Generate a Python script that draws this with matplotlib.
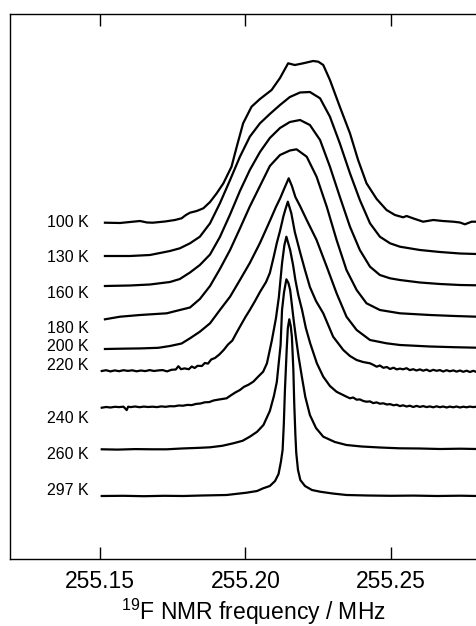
import matplotlib.pyplot as plt

plt.rcParams['font.family'] = ['Liberation Sans', 'DejaVu Sans']
plt.rcParams['mathtext.fontset'] = 'custom'
plt.rcParams['mathtext.rm'] = 'Liberation Sans'
plt.rcParams['mathtext.default'] = 'regular'

# temperatures, vertical offsets of the stacked spectra, label heights
temps = ['100 K', '130 K', '160 K', '180 K', '200 K', '220 K', '240 K', '260 K', '297 K']
offsets = [403.3, 370, 340, 306.7, 277, 255, 218.7, 176.7, 130]
label_y = [399.3, 364.3, 327.7, 292.7, 275.3, 256.5, 202.7, 167, 131.3]

# frequency (MHz) / intensity (a.u.)
f100 = [255.1516, 255.1568, 255.1602, 255.1637, 255.1661, 255.1681, 255.1723, 255.1757, 255.1780, 255.1795,
        255.1809, 255.1832, 255.1855, 255.1878, 255.1901, 255.1924, 255.1952, 255.1970, 255.1992, 255.2021,
        255.2050, 255.2090, 255.2119, 255.2147, 255.2170, 255.2199, 255.2233, 255.2251, 255.2268, 255.2291,
        255.2325, 255.2360, 255.2388, 255.2417, 255.2452, 255.2486, 255.2515, 255.2543, 255.2555, 255.2584,
        255.2612, 255.2647, 255.2680, 255.2716, 255.2739, 255.2756, 255.2779, 255.2797]
i100 = [0, -0.3, 0.7, 1.7, 0.2, 0, 1.2, 2.7, 4.4, 7.7,
        10, 11.7, 14.4, 20.7, 29.4, 39.4, 56, 76, 99.4, 116,
        123.7, 132.7, 144.7, 159.4, 157.7, 159.4, 161.7, 161, 157.7, 142.7,
        116, 89.4, 62.7, 39.4, 23.7, 12.7, 7.7, 5.4, 6.7, 3.7,
        1, 2.7, 1.7, 1, 0.2, -1.6, 1, 1]

f_broad = [255.1516, 255.1602, 255.1671, 255.1740, 255.1774, 255.1809, 255.1843, 255.1878, 255.1912, 255.1947,
           255.1981, 255.2015, 255.2050, 255.2084, 255.2119, 255.2153, 255.2188, 255.2222, 255.2257, 255.2291,
           255.2325, 255.2360, 255.2394, 255.2429, 255.2463, 255.2498, 255.2532, 255.2601, 255.2670, 255.2739,
           255.2796]
i130 = [0, 0, 1, 5, 7.7, 12.7, 19.3, 32.7, 52.7, 76,
        99.3, 119.3, 132.7, 142, 151, 159, 163.5, 164, 157.7, 139.3,
        112.7, 82.7, 56, 32.7, 19.3, 12.7, 9.3, 6, 4, 2.5, 2]
i160 = [0, 0.5, 1.5, 4, 7, 13.5, 21, 31.5, 49, 71.5,
        95, 116, 134, 148, 158, 164, 166, 161, 146, 119.3,
        89.3, 59.3, 36, 19.3, 11, 7.7, 6, 3.5, 2, 1, 0.7]

f180 = [255.1516, 255.1568, 255.1637, 255.1729, 255.1774, 255.1809, 255.1843, 255.1878, 255.1912, 255.1947,
        255.1981, 255.2015, 255.2050, 255.2084, 255.2119, 255.2153, 255.2176, 255.2211, 255.2245, 255.2280,
        255.2314, 255.2348, 255.2383, 255.2417, 255.2463, 255.2532, 255.2635, 255.2721, 255.2796]
i180 = [0, 2.6, 4.3, 6, 9.3, 11.8, 20.3, 33.3, 50.3, 69.3,
        90.8, 112.8, 133.3, 153.3, 164.3, 168.8, 170, 162.6, 142.6, 112.6,
        79.3, 49.3, 29.3, 16, 9.3, 6, 4.3, 3.3, 2.6]

f200 = [255.1516, 255.1570, 255.1640, 255.1700, 255.1740, 255.1780, 255.1809, 255.1843, 255.1878, 255.1912,
        255.1947, 255.1981, 255.2015, 255.2050, 255.2084, 255.2105, 255.2120, 255.2133, 255.2149, 255.2160,
        255.2172, 255.2188, 255.2211, 255.2245, 255.2280, 255.2314, 255.2348, 255.2383, 255.2429, 255.2486,
        255.2532, 255.2635, 255.2720, 255.2796]
i200 = [0, 0.3, 0.6, 1.2, 3, 5.5, 10.7, 17.3, 25.7, 39,
        52.3, 69, 86, 106, 128, 142, 151, 160, 170.7, 163,
        152, 143, 129, 109, 82.3, 55.7, 32.3, 19, 9, 5.7,
        4, 2.5, 1.8, 1.3]

f220 = [255.1505, 255.1520, 255.1535, 255.1550, 255.1565, 255.1580, 255.1595, 255.1610, 255.1625, 255.1640,
        255.1655, 255.1670, 255.1685, 255.1700, 255.1715, 255.1730, 255.1745, 255.1760, 255.1769, 255.1778,
        255.1790, 255.1805, 255.1815, 255.1825, 255.1835, 255.1850, 255.1860, 255.1871, 255.1882, 255.1895,
        255.1910, 255.1925, 255.1940, 255.1955, 255.1967, 255.1981, 255.2000, 255.2015, 255.2033, 255.2050,
        255.2071, 255.2084, 255.2098, 255.2108, 255.2119, 255.2131, 255.2138, 255.2146, 255.2158, 255.2170,
        255.2188, 255.2205, 255.2222, 255.2243, 255.2268, 255.2302, 255.2337, 255.2360, 255.2383, 255.2405,
        255.2429, 255.2440, 255.2452, 255.2463, 255.2475, 255.2487, 255.2498, 255.2510, 255.2521, 255.2532,
        255.2543, 255.2555, 255.2566, 255.2578, 255.2589, 255.2601, 255.2612, 255.2624, 255.2635, 255.2647,
        255.2658, 255.2670, 255.2681, 255.2693, 255.2704, 255.2716, 255.2727, 255.2739, 255.2750, 255.2762,
        255.2773, 255.2785, 255.2796]
i220 = [0, 0.8, -0.4, 0.6, -0.2, 0.8, 0.1, 0.7, -0.3, 0.5,
        -0.1, 0.9, 0, 0.6, 0.9, -0.4, 1.2, 1.5, 4.8, 1.8,
        2.6, 1.8, 4.5, 3.0, 5.2, 5.0, 8.0, 7.4, 11.5, 13.0,
        16.5, 21.0, 26.5, 30.5, 37, 44.3, 54, 61, 70, 79,
        89, 98, 115, 128, 140, 155, 162, 169.3, 157.7, 139,
        119, 101, 84, 70, 57.7, 34.3, 21, 15, 11, 9,
        7.7, 6.2, 4.3, 5.5, 3.2, 4.0, 2.0, 3.3, 1.6, 2.4,
        1.7, 2.8, 0.9, 1.8, 0.5, 1.6, 0.3, 1.4, -0.2, 1.2,
        0.2, 0.9, -0.5, 0.8, -0.3, 0.6, -0.6, 0.5, -0.8, 0.3,
        -1.0, 0.2, -1.0]

f240 = [255.1505, 255.1520, 255.1535, 255.1550, 255.1565, 255.1580, 255.1591, 255.1596, 255.1605, 255.1620,
        255.1635, 255.1650, 255.1665, 255.1680, 255.1695, 255.1710, 255.1725, 255.1740, 255.1755, 255.1770,
        255.1785, 255.1800, 255.1815, 255.1830, 255.1845, 255.1860, 255.1875, 255.1890, 255.1905, 255.1920,
        255.1935, 255.1950, 255.1965, 255.1981, 255.1995, 255.2010, 255.2027, 255.2045, 255.2061, 255.2074,
        255.2091, 255.2105, 255.2115, 255.2126, 255.2134, 255.2141, 255.2154, 255.2164, 255.2172, 255.2182,
        255.2195, 255.2208, 255.2223, 255.2246, 255.2268, 255.2291, 255.2314, 255.2348, 255.2360, 255.2371,
        255.2383, 255.2394, 255.2406, 255.2417, 255.2429, 255.2440, 255.2452, 255.2463, 255.2475, 255.2487,
        255.2498, 255.2510, 255.2521, 255.2532, 255.2543, 255.2555, 255.2566, 255.2578, 255.2589, 255.2601,
        255.2612, 255.2624, 255.2635, 255.2647, 255.2658, 255.2670, 255.2681, 255.2693, 255.2704, 255.2716,
        255.2727, 255.2739, 255.2750, 255.2762, 255.2773, 255.2785, 255.2796]
i240 = [-0.4, 0.3, -0.2, 0.5, 0.2, 0.6, -2.8, 0.6, 0.2, 0.8,
        0.1, 0.7, 0.3, 0.6, 0.2, 0.9, 0.5, 1.1, 1.0, 1.8,
        1.6, 2.4, 2.2, 3.4, 3.8, 5.0, 5.2, 6.8, 7.6, 8.3,
        9.0, 12.0, 14.8, 17.3, 20.5, 22.5, 25.6, 31.0, 35.6, 44,
        67, 89, 110, 144, 162, 170.6, 157.3, 142.3, 127.3, 112.3,
        97.3, 79.3, 64, 44, 30.6, 21.3, 15.5, 10.6, 9.0, 9.8,
        7.6, 7.9, 6.3, 5.6, 5.9, 4.2, 4.9, 3.6, 4.0, 2.8,
        3.2, 2.0, 2.6, 1.2, 2.0, 0.8, 1.6, 0.3, 1.4, 0.4,
        1.2, 0.2, 0.9, 0, 1.0, 0.1, 0.8, -0.2, 0.7, 0,
        0.8, -0.2, 0.6, 0, 0.7, 0.2, 0.6]

f260 = [255.1505, 255.1560, 255.1620, 255.1680, 255.1729, 255.1780, 255.1843, 255.1878, 255.1920, 255.1958,
        255.1990, 255.2015, 255.2040, 255.2062, 255.2084, 255.2098, 255.2108, 255.2115, 255.2121, 255.2126,
        255.2133, 255.2141, 255.2148, 255.2154, 255.2160, 255.2166, 255.2174, 255.2183, 255.2195, 255.2206,
        255.2222, 255.2243, 255.2268, 255.2308, 255.2348, 255.2400, 255.2463, 255.2530, 255.2600, 255.2670,
        255.2740, 255.2796]
i260 = [0, -0.3, 0.2, 0, 0, 0.8, 1.5, 2.0, 3.5, 6.0,
        8.5, 12.6, 17.5, 24.3, 38.3, 53.3, 67.3, 87.3, 104.3, 139.3,
        157.3, 170, 166.3, 159.3, 144.3, 129.3, 111.3, 92.6, 71.3, 52.6,
        34.3, 21.3, 12.6, 7.3, 4.3, 2.8, 1.8, 1.0, 0.8, 0.3,
        0.6, 0.3]

f297 = [255.1505, 255.1580, 255.1650, 255.1720, 255.1786, 255.1850, 255.1935, 255.2004, 255.2040, 255.2061,
        255.2084, 255.2102, 255.2114, 255.2122, 255.2128, 255.2132, 255.2136, 255.2142, 255.2146, 255.2151,
        255.2156, 255.2160, 255.2165, 255.2168, 255.2172, 255.2175, 255.2181, 255.2189, 255.2205, 255.2229,
        255.2257, 255.2300, 255.2348, 255.2420, 255.2500, 255.2580, 255.2660, 255.2740, 255.2796]
i297 = [0, 0.2, -0.2, 0.2, 0, 0.5, 1.0, 3.3, 5.0, 7.7,
        10, 15, 22, 34, 46, 71, 106, 146, 168, 176.7,
        170, 159, 126, 93, 61, 43, 26, 16, 10, 6,
        4.3, 2.5, 1.0, 0.5, 0.2, 0.4, 0, 0.3, 0]

freqs = [f100, f_broad, f_broad, f180, f200, f220, f240, f260, f297]
spectra = [i100, i130, i160, i180, i200, i220, i240, i260, i297]

fig = plt.figure(figsize=(4.77, 6.26), dpi=100)
ax = fig.add_axes([10 / 477, 67 / 626, 486 / 477, 545 / 626])

for f, s, off in zip(freqs, spectra, offsets):
    ax.plot(f, [v + off for v in s], color='black', lw=1.6, solid_joinstyle='round')

for t, ly in zip(temps, label_y):
    ax.text(255.1459, ly, t, ha='right', va='baseline', fontsize=11.5)

ax.set_xlim(255.1189, 255.2863)
ax.set_ylim(67, 612)
ax.set_xticks([255.15, 255.20, 255.25])
ax.set_xticklabels(['255.15', '255.20', '255.25'])
ax.set_yticks([])
ax.tick_params(axis='x', direction='in', top=True, length=8.5, width=1, labelsize=16.5, pad=8)
for sp in ax.spines.values():
    sp.set_linewidth(1.0)
ax.set_xlabel(r'$^{19}$F NMR frequency / MHz', fontsize=16.5, va='baseline')
ax.xaxis.set_label_coords(0.5, -0.1125)

fig.savefig('out.png', dpi=100)
